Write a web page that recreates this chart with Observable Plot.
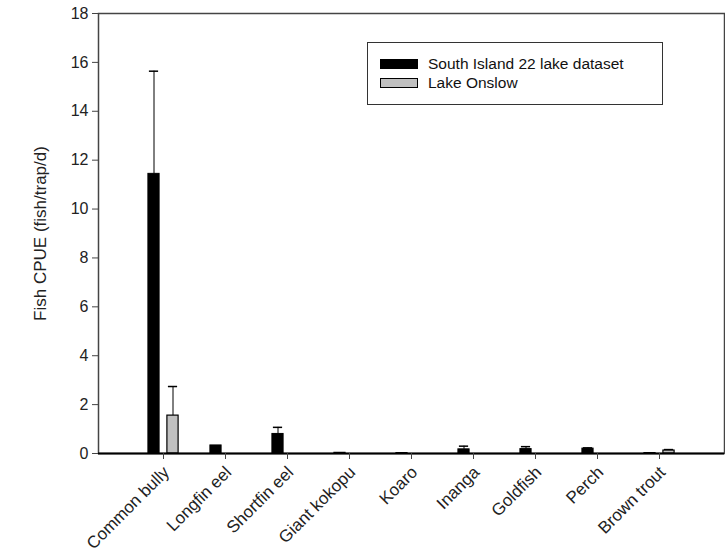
<!DOCTYPE html>
<html>
<head>
<meta charset="utf-8">
<script src="https://cdn.jsdelivr.net/npm/d3@7"></script>
<script src="https://cdn.jsdelivr.net/npm/@observablehq/plot@0.6"></script>
<style>
  body { margin: 0; background: #fff; font-family: "Liberation Sans", Arial, sans-serif; }
  #wrap { position: relative; width: 725px; height: 554px; }
  #legend { position: absolute; left: 367px; top: 42px; width: 296px; height: 63px; border: 1.5px solid #333; background: #fff; box-sizing: border-box; padding-top: 11px; padding-left: 12px; font-size: 15.5px; color: #111; }
  .row { display: flex; align-items: center; height: 19px; }
  .sw { width: 38px; height: 10px; margin-right: 10px; border: 1px solid #000; box-sizing: border-box; }
</style>
</head>
<body>
<div id="wrap"><div id="chart"></div><div id="legend"></div></div>
<script>
const categories = ["Common bully", "Longfin eel", "Shortfin eel", "Giant kokopu", "Koaro", "Inanga", "Goldfish", "Perch", "Brown trout"];
const southValues = [11.44, 0.33, 0.8, 0.03, 0.02, 0.17, 0.18, 0.2, 0.02];
const southErrors = [4.2, 0, 0.27, 0, 0, 0.13, 0.1, 0.03, 0];
const onslowValues = [1.55, 0, 0, 0, 0, 0, 0, 0, 0.12];
const onslowErrors = [1.19, 0, 0, 0, 0, 0, 0, 0, 0.04];
const seriesNames = ["South Island 22 lake dataset", "Lake Onslow"];
const seriesColors = ["#000000", "#c0c0c0"];
const yTicks = [0, 2, 4, 6, 8, 10, 12, 14, 16, 18];

const south = categories.map((c, i) => ({cat: c, value: southValues[i], err: southErrors[i]}));
const onslow = categories.map((c, i) => ({cat: c, value: onslowValues[i], err: onslowErrors[i]}));
const southNZ = south.filter(d => d.value > 0);
const onslowNZ = onslow.filter(d => d.value > 0);
const southErr = south.filter(d => d.err > 0);
const onslowErr = onslow.filter(d => d.err > 0);

const barInset = 25.4, capInset = 26.4, off = 9.5;

const chart = Plot.plot({
  width: 725,
  height: 554,
  marginLeft: 98,
  marginRight: 1,
  marginTop: 13,
  marginBottom: 101,
  style: {fontFamily: "Liberation Sans, Arial, sans-serif", color: "#222", background: "#fff"},
  x: {type: "band", domain: categories, paddingInner: 0, paddingOuter: 0.5, label: null},
  y: {domain: [0, 18], label: null},
  marks: [
    Plot.frame({stroke: "#444", strokeWidth: 1.5}),
    Plot.ruleX(southErr, {x: "cat", y1: "value", y2: d => d.value + d.err, dx: -off, stroke: "#000", strokeWidth: 1}),
    Plot.tickY(southErr, {x: "cat", y: d => d.value + d.err, dx: -off, insetLeft: capInset, insetRight: capInset, stroke: "#000", strokeWidth: 1.5}),
    Plot.ruleX(onslowErr, {x: "cat", y1: "value", y2: d => d.value + d.err, dx: off, stroke: "#000", strokeWidth: 1}),
    Plot.tickY(onslowErr, {x: "cat", y: d => d.value + d.err, dx: off, insetLeft: capInset, insetRight: capInset, stroke: "#000", strokeWidth: 1.5}),
    Plot.barY(southNZ, {x: "cat", y: "value", dx: -off, insetLeft: barInset, insetRight: barInset, fill: seriesColors[0], stroke: "#000", strokeWidth: 1}),
    Plot.barY(onslowNZ, {x: "cat", y: "value", dx: off, insetLeft: barInset, insetRight: barInset, fill: seriesColors[1], stroke: "#000", strokeWidth: 1.2}),
    Plot.ruleY([0], {stroke: "#000", strokeWidth: 2}),
    Plot.axisY({ticks: yTicks, tickSize: 6, tickPadding: 4, fontSize: 16, label: null, stroke: "#444"}),
    Plot.axisX({tickSize: 6, text: null, label: null, stroke: "#444"}),
    Plot.axisX({tickRotate: -45, tickSize: 0, tickPadding: 16, dx: 3, fontSize: 17, label: null}),
    Plot.text(["Fish CPUE (fish/trap/d)"], {frameAnchor: "left", textAnchor: "middle", rotate: -90, dx: -58, fontSize: 17, fill: "#222"})
  ]
});
document.getElementById("chart").appendChild(chart);

const legend = document.getElementById("legend");
seriesNames.forEach((name, i) => {
  const row = document.createElement("div");
  row.className = "row";
  const sw = document.createElement("span");
  sw.className = "sw";
  sw.style.background = seriesColors[i];
  const t = document.createElement("span");
  t.textContent = name;
  row.appendChild(sw);
  row.appendChild(t);
  legend.appendChild(row);
});
</script>
</body>
</html>
